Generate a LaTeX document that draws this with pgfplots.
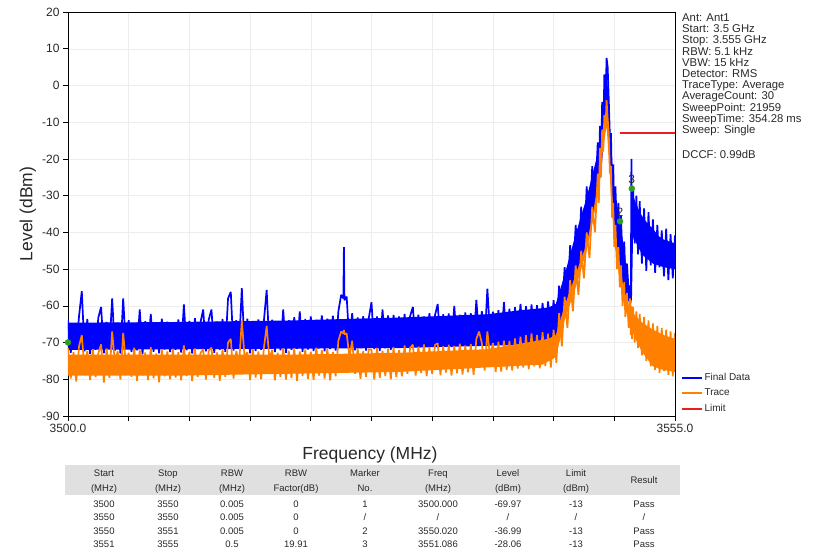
\documentclass[border=0pt]{standalone}
\usepackage{fontspec}
\setmainfont{Liberation Sans}
\usepackage{pgfplots}
\usepackage{pgfplotstable}
\pgfplotsset{compat=1.18}
\definecolor{fblue}{RGB}{0,0,255}
\definecolor{forange}{RGB}{255,128,0}
\definecolor{flimit}{RGB}{235,30,30}
\definecolor{fgreen}{RGB}{40,160,40}
\definecolor{txt}{RGB}{40,40,40}
\definecolor{hdr}{RGB}{224,224,224}

\pgfplotstableread{
x b o
3500.00 -63.9 -71.5
3500.25 -72.8 -79.8
3500.50 -64.8 -72.6
3500.75 -71.9 -80.6
3501.00 -62.8 -71.0
3501.25 -56.0 -68.0
3501.50 -72.4 -77.5
3501.75 -63.6 -72.3
3502.00 -73.1 -80.2
3502.25 -64.9 -71.8
3502.50 -72.0 -79.4
3502.75 -63.2 -72.9
3503.00 -60.3 -70.5
3503.25 -72.9 -80.9
3503.50 -64.4 -71.6
3503.75 -71.8 -79.6
3504.00 -58.0 -67.0
3504.25 -72.2 -75.5
3504.50 -64.6 -72.4
3504.75 -73.0 -80.1
3505.00 -58.0 -67.4
3505.25 -71.5 -76.0
3505.50 -63.9 -72.8
3505.75 -72.6 -79.3
3506.00 -64.9 -71.4
3506.25 -72.1 -80.4
3506.50 -61.0 -72.0
3506.75 -73.2 -79.0
3507.00 -64.2 -72.7
3507.25 -71.7 -80.2
3507.50 -62.2 -71.3
3507.75 -72.5 -79.7
3508.00 -64.7 -73.0
3508.25 -72.9 -80.8
3508.50 -63.5 -71.9
3508.75 -71.9 -79.2
3509.00 -64.3 -72.4
3509.25 -72.6 -80.0
3509.50 -65.0 -71.7
3509.75 -72.0 -79.5
3510.00 -63.7 -72.6
3510.25 -72.7 -80.3
3510.50 -59.6 -70.8
3510.75 -72.1 -79.1
3511.00 -64.1 -72.5
3511.25 -73.0 -80.5
3511.50 -63.4 -71.6
3511.75 -71.8 -79.4
3512.00 -64.6 -72.9
3512.25 -61.0 -71.8
3512.50 -72.4 -80.1
3512.75 -63.8 -72.2
3513.00 -61.0 -71.4
3513.25 -72.8 -79.6
3513.50 -64.3 -72.7
3513.75 -72.0 -80.4
3514.00 -63.6 -71.9
3514.25 -72.5 -79.3
3514.50 -58.0 -70.0
3514.75 -56.2 -69.0
3515.00 -72.2 -79.8
3515.25 -63.9 -72.3
3515.50 -71.0 -76.0
3515.75 -55.2 -64.0
3516.00 -71.5 -74.0
3516.25 -63.5 -72.6
3516.50 -72.9 -80.2
3516.75 -64.4 -71.8
3517.00 -72.3 -79.5
3517.25 -63.7 -72.4
3517.50 -72.0 -80.0
3517.75 -64.1 -71.5
3518.00 -55.7 -65.5
3518.25 -71.2 -74.5
3518.50 -63.8 -72.0
3518.75 -72.6 -80.3
3519.00 -64.5 -72.8
3519.25 -72.1 -79.4
3519.50 -61.0 -71.6
3519.75 -72.8 -80.1
3520.00 -63.9 -72.2
3520.25 -72.0 -79.7
3520.50 -63.1 -71.6
3520.75 -71.7 -80.4
3521.00 -61.5 -72.4
3521.25 -72.5 -79.1
3521.50 -63.6 -71.9
3521.75 -71.9 -79.9
3522.00 -62.9 -72.5
3522.25 -72.3 -80.2
3522.50 -63.8 -71.4
3522.75 -71.6 -79.0
3523.00 -62.6 -72.1
3523.25 -72.4 -79.8
3523.50 -63.5 -71.7
3523.75 -71.8 -80.3
3524.00 -62.7 -72.6
3524.25 -72.2 -79.2
3524.50 -61.5 -69.5
3524.75 -57.0 -67.0
3524.95 -58.0 -67.5
3525.00 -44.0 -66.6
3525.05 -58.5 -67.8
3525.25 -57.5 -67.5
3525.50 -70.5 -74.0
3525.75 -62.0 -69.5
3526.00 -72.1 -78.5
3526.25 -63.2 -71.6
3526.50 -71.5 -79.9
3526.75 -62.8 -72.3
3527.00 -72.2 -79.3
3527.25 -63.4 -71.8
3527.50 -59.0 -72.0
3527.75 -71.8 -80.1
3528.00 -62.9 -71.5
3528.25 -72.3 -79.6
3528.50 -61.0 -72.2
3528.75 -71.6 -79.1
3529.00 -62.6 -71.7
3529.25 -72.0 -80.0
3529.50 -62.5 -71.3
3529.75 -71.4 -79.4
3530.00 -62.9 -72.0
3530.25 -71.3 -79.2
3530.50 -62.2 -70.8
3530.75 -70.8 -78.5
3531.00 -62.8 -71.4
3531.25 -60.3 -70.6
3531.50 -71.2 -79.0
3531.75 -62.4 -71.1
3532.00 -70.6 -78.3
3532.25 -62.9 -70.5
3532.50 -71.1 -79.1
3532.75 -62.0 -71.2
3533.00 -70.9 -78.6
3533.25 -62.6 -70.7
3533.50 -59.5 -70.2
3533.75 -71.0 -78.9
3534.00 -62.3 -71.0
3534.25 -70.7 -78.2
3534.50 -62.1 -70.6
3534.75 -71.2 -79.0
3535.00 -60.0 -70.9
3535.25 -70.5 -78.4
3535.50 -62.4 -70.3
3535.75 -70.9 -78.7
3536.00 -61.8 -70.8
3536.25 -70.6 -78.1
3536.50 -62.0 -70.4
3536.75 -70.8 -78.8
3537.00 -58.4 -69.0
3537.25 -68.5 -67.0
3537.50 -61.5 -70.2
3537.75 -70.2 -77.6
3538.00 -55.3 -67.0
3538.25 -68.0 -74.0
3538.50 -61.6 -70.1
3538.75 -70.1 -78.0
3539.00 -61.2 -69.8
3539.25 -70.4 -77.9
3539.50 -59.0 -69.5
3539.75 -69.8 -77.4
3540.00 -60.8 -69.6
3540.25 -69.5 -77.6
3540.50 -60.4 -68.9
3540.75 -69.0 -77.1
3541.00 -59.5 -68.4
3541.25 -68.7 -76.8
3541.50 -60.1 -68.0
3541.75 -68.9 -77.3
3542.00 -59.6 -67.5
3542.25 -68.4 -76.5
3542.50 -59.8 -67.9
3542.75 -68.6 -77.0
3543.00 -59.2 -67.2
3543.25 -68.0 -76.4
3543.50 -58.8 -67.6
3543.75 -67.8 -76.8
3544.00 -58.5 -66.5
3544.25 -67.0 -75.5
3544.50 -54.5 -62.0
3544.75 -62.5 -71.0
3545.00 -49.5 -57.5
3545.25 -58.0 -66.0
3545.50 -43.5 -53.0
3545.75 -53.0 -61.5
3546.00 -38.0 -49.0
3546.25 -49.0 -57.0
3546.50 -33.0 -45.0
3546.75 -45.0 -52.5
3547.00 -27.5 -40.0
3547.25 -39.0 -47.0
3547.50 -22.0 -33.0
3547.75 -32.0 -40.0
3548.00 -15.5 -24.0
3548.10 -26.0 -32.0
3548.20 -11.0 -17.0
3548.30 -20.0 -25.0
3548.40 -4.5 -12.0
3548.50 -14.0 -18.0
3548.60 3.0 -8.0
3548.70 -6.0 -12.0
3548.80 7.5 -4.0
3548.90 5.0 -9.0
3549.00 -4.0 -13.0
3549.10 -14.0 -24.0
3549.20 -13.0 -22.0
3549.30 -30.0 -36.0
3549.40 -21.5 -32.0
3549.50 -36.0 -44.0
3549.60 -27.5 -38.0
3549.75 -40.0 -50.0
3549.87 -32.0 -44.0
3550.00 -44.0 -55.0
3550.10 -35.5 -49.0
3550.25 -48.5 -60.0
3550.40 -42.5 -53.5
3550.50 -52.0 -63.0
3550.65 -48.5 -56.5
3550.80 -56.0 -66.0
3550.92 -54.5 -58.0
3551.00 -57.0 -68.0
3551.05 -20.0 -60.0
3551.10 -45.0 -69.0
3551.20 -27.5 -60.3
3551.35 -43.0 -70.0
3551.50 -30.0 -61.5
3551.65 -46.0 -71.5
3551.80 -31.5 -62.2
3552.00 -48.5 -73.5
3552.20 -33.5 -63.0
3552.40 -50.5 -75.0
3552.60 -34.5 -64.0
3552.80 -49.0 -76.5
3553.00 -36.5 -64.8
3553.20 -51.0 -77.5
3553.40 -38.0 -65.5
3553.60 -49.5 -78.3
3553.80 -39.5 -66.0
3554.00 -52.0 -77.8
3554.20 -39.0 -66.5
3554.40 -53.0 -78.8
3554.60 -40.5 -67.0
3554.80 -52.5 -79.2
3555.00 -40.8 -67.4
}\spectrum

\begin{document}
\begin{tikzpicture}
\useasboundingbox (0,0) rectangle (820pt,554pt);
\begin{axis}[
  at={(68pt,138pt)}, anchor=south west,
  scale only axis, width=607pt, height=404pt,
  xmin=3500, xmax=3555, ymin=-90, ymax=20,
  xtick={3500,3505.5,3511,3516.5,3522,3527.5,3533,3538.5,3544,3549.5,3555},
  xticklabels={3500.0,,,,,,,,,,3555.0},
  ytick={-90,-80,...,20},
  tick align=outside, tick pos=left,
  major tick length=5pt,
  every tick/.style={black, line width=0.6pt},
  axis line style={black, line width=0.8pt},
  ticklabel style={font=\fontsize{12}{14}\selectfont, text=txt},
  /pgf/number format/assume math mode=true,
  xlabel={Frequency (MHz)}, ylabel={Level (dBm)},
  label style={font=\fontsize{17.5}{20}\selectfont, text=txt},
  xlabel style={at={(axis description cs:0.4975,-0.0965)}, anchor=center},
  ylabel style={at={(axis description cs:-0.066,0.5)}, anchor=center},
  grid=major, major grid style={black!7, line width=0.4pt},
  legend style={at={(1.01,0.11)}, anchor=north west, draw=none, fill=none,
    font=\fontsize{10}{12}\selectfont, text=txt, row sep=4pt, inner sep=0pt,
    nodes={inner sep=1.5pt, anchor=west}},
  legend cell align=left,
]
% solid core of the blue (Final Data) noise band
\addplot[fill=fblue, draw=none, forget plot] coordinates {
 (3500,-64.6) (3510,-64.4) (3520,-64) (3530,-63.2) (3538,-62.3) (3541,-61.2) (3543.5,-60.5) (3544.2,-59.5)
 (3545,-51.5) (3546,-40.5) (3547,-30.5) (3547.5,-24.5) (3548,-18.5) (3548.4,-8.5) (3548.7,3) (3548.85,4)
 (3549.0,-7) (3549.2,-16) (3549.5,-29) (3549.87,-35) (3550.1,-38.5) (3550.4,-45) (3550.65,-50.5)
 (3550.9,-56) (3551.0,-57.5) (3551.1,-47) (3551.2,-30) (3551.5,-32.5) (3552,-35.5) (3552.5,-37.5)
 (3553,-39) (3553.5,-41) (3554,-42) (3554.5,-42.5) (3555,-43)
 (3555,-50) (3554,-49.5) (3553,-48.5) (3552,-46) (3551.5,-43) (3551.2,-41) (3551.1,-58)
 (3551.0,-60) (3550.5,-57) (3550,-52) (3549.5,-42) (3549.2,-27) (3549.0,-17) (3548.8,-8)
 (3548.6,-14) (3548.3,-24) (3548,-29) (3547.5,-37) (3547,-44) (3546,-54) (3545,-63)
 (3544.2,-69) (3543,-70.5) (3530,-71.5) (3500,-72)} -- cycle;
\addplot[fblue, line width=1.7pt, line join=bevel,
  legend image code/.code={\draw[fblue, line width=1.8pt] (0pt,0pt) -- (20pt,0pt);}]
  table[x=x, y=b] {\spectrum};
\addlegendentry{Final Data}
% solid core of the orange (Trace) noise band
\addplot[fill=forange, draw=none, forget plot] coordinates {
 (3500,-73.3) (3510,-73.3) (3520,-73.3) (3530,-72.8) (3538,-71.8) (3541,-70.3) (3543.5,-69) (3544.2,-68)
 (3545,-60) (3546,-51.5) (3547,-43) (3547.5,-36) (3548,-27) (3548.4,-15) (3548.8,-6.5)
 (3549.0,-15) (3549.4,-34) (3549.75,-46) (3550.1,-51) (3550.4,-56) (3550.75,-59.5)
 (3551.2,-62) (3552,-64.5) (3553,-66.5) (3554,-68) (3555,-69)
 (3555,-78) (3554,-77.5) (3553,-76.5) (3552,-72.5) (3551.5,-69.5) (3551,-66) (3550.5,-61)
 (3550,-53) (3549.5,-42) (3549.2,-30) (3549.0,-20) (3548.8,-11) (3548.5,-17) (3548.2,-24)
 (3548,-30) (3547.5,-38) (3547,-45) (3546,-55) (3545,-64) (3544.2,-74) (3543,-76)
 (3530,-78) (3510,-79) (3500,-79)} -- cycle;
\addplot[forange, line width=1.7pt, line join=bevel,
  legend image code/.code={\draw[forange, line width=1.8pt] (0pt,0pt) -- (20pt,0pt);}]
  table[x=x, y=o] {\spectrum};
\addlegendentry{Trace}
\addplot[flimit, line width=1.6pt,
  legend image code/.code={\draw[flimit, line width=1.8pt] (0pt,0pt) -- (20pt,0pt);}]
  coordinates {(3550,-13) (3555,-13)};
\addlegendentry{Limit}
\addplot[only marks, mark=*, mark size=3pt, fgreen, forget plot] coordinates {(3500,-69.97)};
\addplot[only marks, mark=*, mark size=3pt, fgreen, forget plot,
  nodes near coords, point meta=explicit symbolic,
  nodes near coords style={font=\fontsize{12}{14}\selectfont, text=txt, anchor=south, yshift=1pt}]
  coordinates {(3550.02,-36.99) [2] (3551.086,-28.06) [3]};
\end{axis}

% instrument settings
\node[anchor=north west, align=left, inner sep=0pt, text=txt,
  font=\fontsize{11.3}{11.2}\selectfont] at (682pt,540.5pt)
  {Ant: Ant1\\Start: 3.5 GHz\\Stop: 3.555 GHz\\RBW: 5.1 kHz\\VBW: 15 kHz\\Detector: RMS\\TraceType: Average\\AverageCount: 30\\SweepPoint: 21959\\SweepTime: 354.28 ms\\Sweep: Single\\[13.8pt]DCCF: 0.99dB};

% result table
\fill[hdr] (65pt,59pt) rectangle (680pt,89pt);
\tikzset{hd/.style={anchor=base, align=center, inner sep=0pt, text=txt, font=\fontsize{9.5}{15}\selectfont},
         td/.style={anchor=base, inner sep=0pt, text=txt, font=\fontsize{9.5}{12}\selectfont}}
\node[hd] at (104pt,62.6pt) {Start\\(MHz)};
\node[hd] at (168pt,62.6pt) {Stop\\(MHz)};
\node[hd] at (232pt,62.6pt) {RBW\\(MHz)};
\node[hd] at (296pt,62.6pt) {RBW\\Factor(dB)};
\node[hd] at (365pt,62.6pt) {Marker\\No.};
\node[hd] at (438pt,62.6pt) {Freq\\(MHz)};
\node[hd] at (508pt,62.6pt) {Level\\(dBm)};
\node[hd] at (576pt,62.6pt) {Limit\\(dBm)};
\node[hd] at (644pt,70.6pt) {Result};
\foreach \x/\t in {104/3500,168/3550,232/0.005,296/0,365/1,438/3500.000,508/-69.97,576/-13,644/Pass}
  \node[td] at (\x pt,46.6pt) {\t};
\foreach \x/\t in {104/3550,168/3550,232/0.005,296/0,365/{/},438/{/},508/{/},576/{/},644/{/}}
  \node[td] at (\x pt,33.1pt) {\t};
\foreach \x/\t in {104/3550,168/3551,232/0.005,296/0,365/2,438/3550.020,508/-36.99,576/-13,644/Pass}
  \node[td] at (\x pt,19.6pt) {\t};
\foreach \x/\t in {104/3551,168/3555,232/0.5,296/19.91,365/3,438/3551.086,508/-28.06,576/-13,644/Pass}
  \node[td] at (\x pt,6.1pt) {\t};
\end{tikzpicture}
\end{document}
